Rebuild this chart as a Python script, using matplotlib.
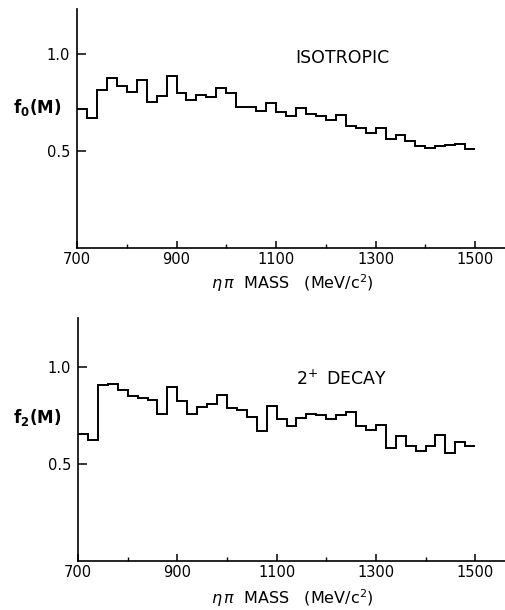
import numpy as np
import matplotlib
matplotlib.use("Agg")
import matplotlib.pyplot as plt

# bin edges, 20 MeV bins from 700 to 1500
mass_edges = np.arange(700, 1501, 20)

f0_isotropic = [0.716, 0.671, 0.815, 0.879, 0.836, 0.804, 0.870, 0.756, 0.785, 0.891,
                0.801, 0.765, 0.791, 0.780, 0.825, 0.801, 0.730, 0.730, 0.706, 0.747,
                0.702, 0.680, 0.725, 0.694, 0.683, 0.659, 0.685, 0.631, 0.618, 0.593,
                0.621, 0.561, 0.585, 0.555, 0.528, 0.517, 0.529, 0.533, 0.536, 0.512]

f2_decay = [0.651, 0.625, 0.906, 0.911, 0.880, 0.848, 0.841, 0.829, 0.757, 0.896,
            0.825, 0.755, 0.791, 0.810, 0.854, 0.789, 0.776, 0.743, 0.671, 0.795,
            0.728, 0.697, 0.736, 0.757, 0.752, 0.728, 0.752, 0.764, 0.693, 0.676,
            0.700, 0.579, 0.644, 0.589, 0.567, 0.592, 0.646, 0.558, 0.613, 0.594]

x_ticks = [700, 900, 1100, 1300, 1500]
x_minor = [800, 1000, 1200, 1400]
y_ticks = [0.5, 1.0]
y_ticklabels = ["0.5", "1.0"]

plt.rcParams['font.family'] = ['DejaVu Sans']
plt.rcParams['mathtext.fontset'] = 'dejavusans'

W, H = 505, 610
fig = plt.figure(figsize=(W / 100, H / 100), dpi=100)


def px_axes(left, top, right, bottom):
    return fig.add_axes([left / W, 1 - bottom / H, (right - left) / W, (bottom - top) / H])


def setup(ax, values, ytop, label, ylab, ylab_y, xlab_y, label_xy):
    ax.stairs(values, mass_edges, baseline=None, color='black', linewidth=1.4)
    ax.set_xlim(700, 1560)
    ax.set_ylim(0, ytop)
    for s in ['top', 'right']:
        ax.spines[s].set_visible(False)
    for s in ['left', 'bottom']:
        ax.spines[s].set_linewidth(1.2)
    ax.set_xticks(x_ticks)
    ax.set_xticks(x_minor, minor=True)
    ax.set_yticks(y_ticks)
    ax.set_yticklabels(y_ticklabels)
    ax.tick_params(axis='x', which='major', direction='in', length=5, width=1.1,
                   pad=3, labelsize=10.5)
    ax.tick_params(axis='x', which='minor', direction='in', length=3, width=1.0)
    ax.tick_params(axis='y', direction='in', length=6.5, width=1.1, pad=5, labelsize=10.5)
    ax.text(label_xy[0], label_xy[1], label, fontsize=12.5, ha='center', va='center')
    fig.text(37 / W, 1 - ylab_y / H, ylab, fontsize=12, fontweight='bold',
             ha='center', va='center')
    fig.text(292 / W, 1 - xlab_y / H, r'$\eta\,\pi$  MASS   (MeV/c$^2$)', fontsize=11.5,
             ha='center', va='center')


ax1 = px_axes(77, 9, 505, 248)
setup(ax1, f0_isotropic, 1.235, "ISOTROPIC", r'f$_\mathbf{0}$(M)', 108, 283, (1234, 0.98))

ax2 = px_axes(78, 318, 505, 561)
setup(ax2, f2_decay, 1.25, r'2$^{\!+}$ DECAY', r'f$_\mathbf{2}$(M)', 418, 598, (1230, 0.937))

fig.savefig("out.png", dpi=100)
